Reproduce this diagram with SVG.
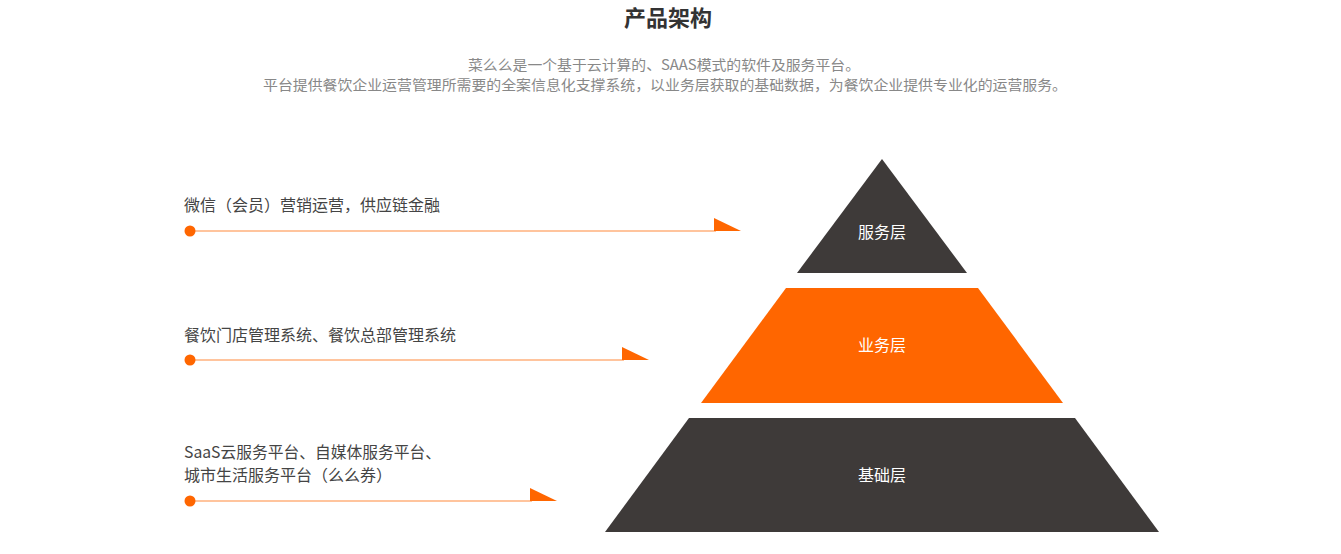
<svg xmlns="http://www.w3.org/2000/svg" width="1341" height="554" viewBox="0 0 1341 554">
<style>
text{font-family:"Noto Sans CJK SC","Noto Sans",sans-serif}
.title{font-size:22px;font-weight:bold;fill:#333;text-anchor:middle}
.sub{font-size:14px;fill:#888;text-anchor:middle}
.lbl{font-size:16px;fill:#444}
.layer{font-size:16px;fill:#fff;text-anchor:middle}
.dark{fill:#3e3a39}
.orange{fill:#ff6600}
.line{stroke:#ff8a3d;stroke-width:1.2;fill:none}
.dot{fill:#ff6600}
.head{fill:#ff6600}
</style>
<rect width="1341" height="554" fill="#fff"/>
<text class="title" x="668" y="26">产品架构</text>
<text class="sub" x="664" y="70" textLength="392" lengthAdjust="spacingAndGlyphs">菜么么是一个基于云计算的、SAAS模式的软件及服务平台。</text>
<text class="sub" x="665" y="90" textLength="804" lengthAdjust="spacingAndGlyphs">平台提供餐饮企业运营管理所需要的全案信息化支撑系统，以业务层获取的基础数据，为餐饮企业提供专业化的运营服务。</text>

<g id="connectors">
  <line class="line" x1="190" y1="231" x2="716" y2="231"/>
  <polygon class="head" points="714,218 741,231 714,231"/>
  <circle class="dot" cx="190" cy="231" r="5.5"/>
  <line class="line" x1="190" y1="360" x2="624" y2="360"/>
  <polygon class="head" points="622,347 649,360 622,360"/>
  <circle class="dot" cx="190" cy="360" r="5.5"/>
  <line class="line" x1="190" y1="501" x2="532" y2="501"/>
  <polygon class="head" points="530,488 557,501 530,501"/>
  <circle class="dot" cx="190" cy="501" r="5.5"/>
</g>

<g id="label-service">
  <text class="lbl" x="184" y="211">微信（会员）营销运营，供应链金融</text>
</g>
<g id="label-business">
  <text class="lbl" x="184" y="341">餐饮门店管理系统、餐饮总部管理系统</text>
</g>
<g id="label-base">
  <text class="lbl" x="184" y="458" textLength="257" lengthAdjust="spacingAndGlyphs">SaaS云服务平台、自媒体服务平台、</text>
  <text class="lbl" x="184" y="481">城市生活服务平台（么么券）</text>
</g>

<g id="layer-service">
  <polygon class="dark" points="882,159 967,273 797,273"/>
  <text class="layer" x="882" y="238">服务层</text>
</g>
<g id="layer-business">
  <polygon class="orange" points="786,288 978,288 1063,403 701,403"/>
  <text class="layer" x="882" y="351">业务层</text>
</g>
<g id="layer-base">
  <polygon class="dark" points="689,418 1075,418 1159,532 605,532"/>
  <text class="layer" x="882" y="481">基础层</text>
</g>
</svg>
